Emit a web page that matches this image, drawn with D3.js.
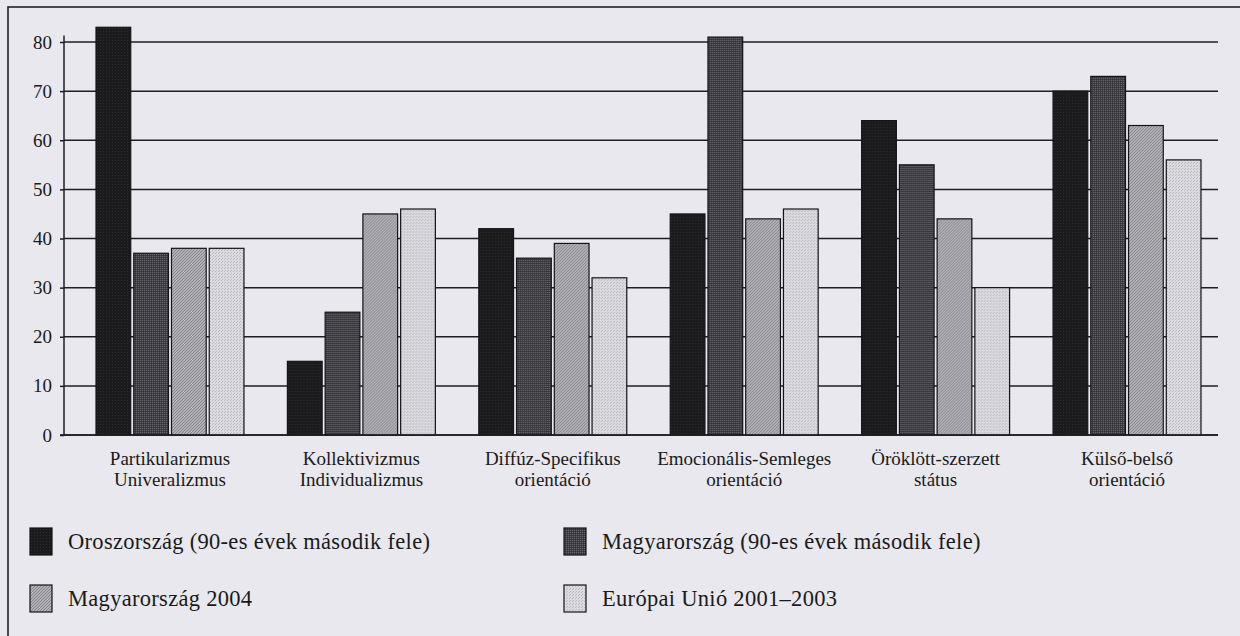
<!DOCTYPE html>
<html>
<head>
<meta charset="utf-8">
<script src="https://cdn.jsdelivr.net/npm/d3@7"></script>
<style>
  html, body { margin: 0; padding: 0; background: #e8e8ee; }
  svg { display: block; }
  svg text { font-family: "Liberation Serif", "Times New Roman", "DejaVu Serif", serif; fill: #1a1a1a; }
</style>
</head>
<body>
<svg id="chart" width="1240" height="636"></svg>
<script>
// Trompenaars dimensions, four samples
const categories = [
  ["Partikularizmus", "Univeralizmus"],
  ["Kollektivizmus", "Individualizmus"],
  ["Diffúz-Specifikus", "orientáció"],
  ["Emocionális-Semleges", "orientáció"],
  ["Öröklött-szerzett", "státus"],
  ["Külső-belső", "orientáció"]
];
const seriesNames = [
  "Oroszország (90-es évek második fele)",
  "Magyarország (90-es évek második fele)",
  "Magyarország 2004",
  "Európai Unió 2001–2003"
];
const russia90s   = [83, 15, 42, 45, 64, 70];
const hungary90s  = [37, 25, 36, 81, 55, 73];
const hungary2004 = [38, 45, 39, 44, 44, 63];
const eu2001_2003 = [38, 46, 32, 46, 30, 56];
const yTicks = [0, 10, 20, 30, 40, 50, 60, 70, 80];

const seriesValues = [russia90s, hungary90s, hungary2004, eu2001_2003];
const catKeys = categories.map(c => c.join(" "));

const svg = d3.select("#chart");
const defs = svg.append("defs");

// fine print-screen textures for the four fills
function texture(id, base, size, draw) {
  const p = defs.append("pattern").attr("id", id)
    .attr("patternUnits", "userSpaceOnUse").attr("width", size).attr("height", size);
  p.append("rect").attr("width", size).attr("height", size).attr("fill", base);
  draw(p);
}
texture("fill0", "#1b1b1e", 3, p => {
  p.append("rect").attr("x", 1).attr("y", 1).attr("width", 1).attr("height", 1).attr("fill", "#2c2c30");
});
texture("fill1", "#3e3e42", 2, p => {
  p.append("rect").attr("x", 0).attr("y", 0).attr("width", 1).attr("height", 1).attr("fill", "#66666c");
  p.append("rect").attr("x", 1).attr("y", 1).attr("width", 1).attr("height", 1).attr("fill", "#343438");
});
texture("fill2", "#b0b0b6", 3, p => {
  p.append("rect").attr("x", 0).attr("y", 2).attr("width", 1).attr("height", 1).attr("fill", "#86868c");
  p.append("rect").attr("x", 1).attr("y", 1).attr("width", 1).attr("height", 1).attr("fill", "#86868c");
  p.append("rect").attr("x", 2).attr("y", 0).attr("width", 1).attr("height", 1).attr("fill", "#86868c");
});
texture("fill3", "#dadadf", 3, p => {
  p.append("rect").attr("x", 0).attr("y", 0).attr("width", 1).attr("height", 1).attr("fill", "#b8b8be");
  p.append("rect").attr("x", 2).attr("y", 1).attr("width", 1).attr("height", 1).attr("fill", "#b8b8be");
});
const fills = ["url(#fill0)", "url(#fill1)", "url(#fill2)", "url(#fill3)"];

// outer frame of the figure
svg.append("rect").attr("x", 8).attr("y", 7).attr("width", 1260).attr("height", 700)
  .attr("fill", "none").attr("stroke", "#222").attr("stroke-width", 1.6);

const plotLeft = 64, plotRight = 1218;
const y = d3.scaleLinear().domain([0, 80]).range([435, 42]);

const x0 = d3.scaleBand().domain(catKeys).range([96, 1201]).paddingInner(0.227).paddingOuter(0);
const x1 = d3.scaleBand().domain(d3.range(4)).range([0, x0.bandwidth()]).paddingInner(0.08).paddingOuter(0);

// horizontal grid
svg.append("g").selectAll("line").data(yTicks).join("line")
  .attr("x1", plotLeft).attr("x2", plotRight)
  .attr("y1", d => y(d)).attr("y2", d => y(d))
  .attr("stroke", "#1e1e22").attr("stroke-width", 1.5);

// y axis
const yAxis = svg.append("g").attr("transform", `translate(${plotLeft},0)`)
  .call(d3.axisLeft(y).tickValues(yTicks).tickSize(4).tickPadding(8));
yAxis.attr("font-family", null);
yAxis.select(".domain").remove();
yAxis.selectAll(".tick line").attr("stroke", "#1e1e22").attr("stroke-width", 1.5);
yAxis.selectAll(".tick text").attr("font-size", 19).attr("fill", "#1a1a1a");
svg.append("line").attr("x1", plotLeft).attr("x2", plotLeft)
  .attr("y1", y(0)).attr("y2", y(81.3))
  .attr("stroke", "#1e1e22").attr("stroke-width", 1.5);

// bars
const groups = svg.append("g").selectAll("g").data(catKeys).join("g")
  .attr("transform", d => `translate(${x0(d)},0)`);
groups.selectAll("rect").data((d, i) => seriesValues.map((s, k) => ({ k, v: s[i] }))).join("rect")
  .attr("x", d => x1(d.k))
  .attr("y", d => y(d.v))
  .attr("width", x1.bandwidth())
  .attr("height", d => y(0) - y(d.v))
  .attr("fill", d => fills[d.k])
  .attr("stroke", "#151517").attr("stroke-width", 1.2);

// baseline over the bar feet
svg.append("line").attr("x1", plotLeft - 4).attr("x2", plotRight)
  .attr("y1", y(0)).attr("y2", y(0)).attr("stroke", "#1e1e22").attr("stroke-width", 1.6);

// category labels
const labels = svg.append("g").selectAll("text").data(categories).join("text")
  .attr("text-anchor", "middle")
  .attr("x", (d, i) => x0(catKeys[i]) + x0.bandwidth() / 2)
  .attr("y", 465)
  .attr("font-size", 19);
labels.selectAll("tspan").data(d => d).join("tspan")
  .attr("x", function() { return this.parentNode.getAttribute("x"); })
  .attr("dy", (d, j) => j === 0 ? 0 : 21)
  .text(d => d);

// legend
const legendPos = [[30, 528], [564, 528], [30, 585], [564, 585]];
const legend = svg.append("g").selectAll("g").data(seriesNames).join("g")
  .attr("transform", (d, i) => `translate(${legendPos[i][0]},${legendPos[i][1]})`);
legend.append("rect").attr("width", 22).attr("height", 27)
  .attr("fill", (d, i) => fills[i]).attr("stroke", "#151517").attr("stroke-width", 1.2);
legend.append("text").attr("x", 38).attr("y", 21).attr("font-size", 22.5)
  .attr("letter-spacing", 0.3).text(d => d);
</script>
</body>
</html>
